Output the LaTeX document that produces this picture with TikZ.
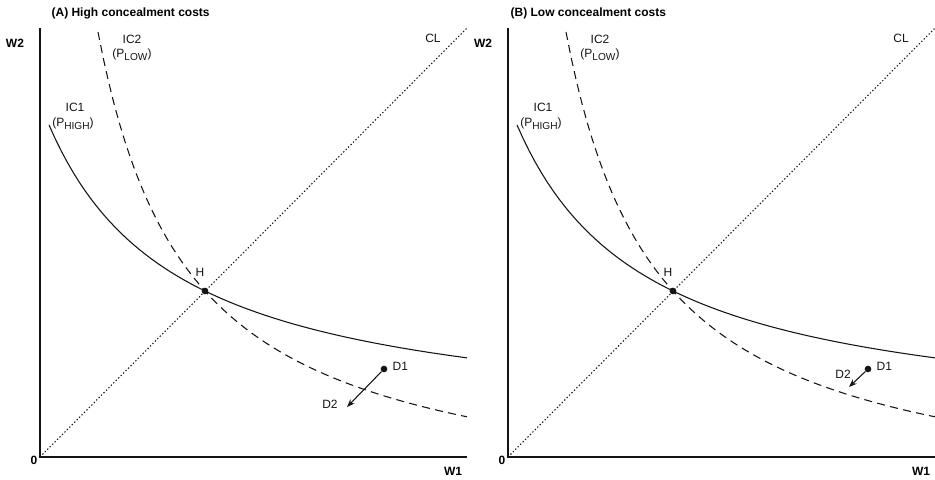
\documentclass[tikz,border=0pt]{standalone}
\usepackage{fontspec}
\setmainfont{Liberation Sans}
\usetikzlibrary{arrows.meta}
\definecolor{inkc}{RGB}{20,20,20}
\newcommand{\lowsub}[1]{\raisebox{-2.2pt}{\fontsize{7.6}{8}\selectfont #1}}

\begin{document}
\begin{tikzpicture}[x=0.75pt,y=-0.75pt,>={Stealth[length=6pt,width=4.5pt]},
  font=\fontsize{9}{10}\selectfont,
  lbl/.style={inner sep=1pt,text=inkc},
  axlbl/.style={inner sep=1pt,font=\fontsize{9}{10}\selectfont\bfseries},
  dot/.style={circle,fill=inkc,inner sep=0pt,minimum size=5pt}]
\useasboundingbox (0,0) rectangle (935,479);
% two panels, second one shifted right
\foreach \dx/\p/\ttl/\tx/\ax/\ay/\bx/\by/\lx/\ly in {0/A/{(A) High concealment costs}/50/384/369/347/407/330/404,
    468/B/{(B) Low concealment costs}/41/400/369/381/387/375/374}{
\begin{scope}[shift={(\dx,0)}]
  % axes
  \coordinate (O\p) at (40,457);
  \coordinate (ytop\p) at (40,28);
  \coordinate (xend\p) at (467,457);
  \coordinate (clend\p) at (467,28);
  \draw[inkc,line width=2.2pt] (ytop\p) -- (O\p) -- (xend\p);
  \node[axlbl,anchor=west] (title\p) at (\tx,13) {\ttl};
  \node[axlbl] (w2\p) at (15,43) {W2};
  \node[axlbl] (zero\p) at (34,460) {0};
  \node[axlbl] (w1\p) at (453,471) {W1};
  % certainty line
  \draw[inkc,line width=0.8pt,dash pattern=on 1pt off 1.6pt] (O\p) -- (clend\p);
  \node[lbl] (cl\p) at (433,38) {CL};
  % indifference curves
  \draw[inkc,line width=0.8pt,domain=9:427,samples=70]
    plot ({40+\x},{457-25.7-403.8/((\x+122.8)/100)});
  \draw[inkc,line width=0.8pt,dash pattern=on 6pt off 4pt,domain=58:427,samples=70]
    plot ({40+\x},{457+55-438.24/((\x+33.3)/100)});
  \node[lbl] (ic1\p) at (75,107) {IC1};
  \node[lbl] (ph\p) at (73,124) {(P\lowsub{HIGH})};
  \node[lbl] (ic2\p) at (132,39) {IC2};
  \node[lbl] (pl\p) at (132,55) {(P\lowsub{LOW})};
  % points
  \node[dot] (H\p) at (205,291) {};
  \node[lbl] (hl\p) at (200,272) {H};
  \node[dot] (d1\p) at (\ax,\ay) {};
  \node[lbl,anchor=west] (d1l\p) at (\ax+7,\ay-3) {D1};
  \coordinate (d2\p) at (\bx,\by);
  \node[lbl] (d2l\p) at (\lx,\ly) {D2};
  \draw[inkc,line width=0.8pt,->] (d1\p) -- (d2\p);
\end{scope}
}
\end{tikzpicture}
\end{document}
